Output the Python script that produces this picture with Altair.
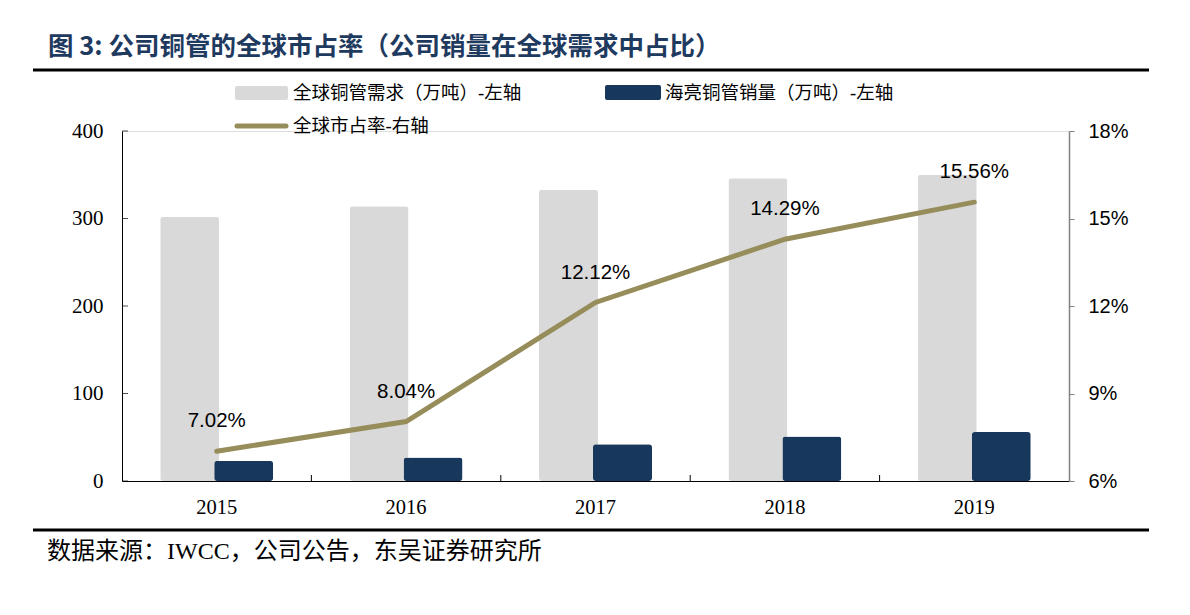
import altair as alt
import pandas as pd

years = ["2015", "2016", "2017", "2018", "2019"]
demand = [302, 314, 333, 346, 350]          # 全球铜管需求（万吨）
sales = [23, 27, 42, 51, 56]                 # 海亮铜管销量（万吨）
share = [7.02, 8.04, 12.12, 14.29, 15.56]    # 全球市占率 %
left_ticks = [0, 100, 200, 300, 400]
right_ticks = [6, 9, 12, 15, 18]

title_text = "图 3:  公司铜管的全球市占率（公司销量在全球需求中占比）"
source_text = "数据来源：IWCC，公司公告，东吴证券研究所"
leg1 = "全球铜管需求（万吨）-左轴"
leg2 = "海亮铜管销量（万吨）-左轴"
leg3 = "全球市占率-右轴"

df = pd.DataFrame({"year": years, "demand": demand, "sales": sales, "share": share})
df_ticks = pd.DataFrame({"v": left_ticks})
df_bounds = pd.DataFrame({"year": years[1:]})
one = pd.DataFrame({"a": [0]})

W, H = 947, 350
SERIF = "Liberation Serif, Times New Roman, Noto Sans CJK SC"
CJK = "Liberation Serif, Noto Sans CJK SC"
SANS = "Liberation Sans, Arial"
GRAY = "#D9D9D9"
NAVY = "#18375C"
OLIVE = "#978D5B"

xscale = alt.Scale(domain=years, paddingInner=0, paddingOuter=0)
xenc = alt.X("year:N", scale=xscale, sort=years,
             axis=alt.Axis(title=None, labelAngle=0, ticks=False, domainColor="black",
                           domainWidth=1, labelFont=SERIF, labelFontSize=20.5,
                           labelColor="black", labelPadding=16))
yleft = alt.Scale(domain=[0, 400], nice=False)

base = alt.Chart(df)

gray_bars = base.mark_bar(width=59, xOffset=-27, color=GRAY, cornerRadius=3).encode(
    x=xenc,
    y=alt.Y("demand:Q", scale=yleft,
            axis=alt.Axis(title=None, values=left_ticks, ticks=False, grid=False,
                          domainColor="black", domainWidth=1, labelFont=SERIF,
                          labelFontSize=21, labelColor="black", labelPadding=19)),
)
dark_bars = base.mark_bar(width=59, xOffset=27, color=NAVY, cornerRadius=3).encode(
    x=alt.X("year:N", scale=xscale, sort=years),
    y=alt.Y("sales:Q", scale=yleft),
)
left_tick_marks = alt.Chart(df_ticks).mark_tick(orient="horizontal", size=6, thickness=1,
                                                color="black").encode(
    x=alt.value(3), y=alt.Y("v:Q", scale=yleft))
x_bounds = alt.Chart(df_bounds).mark_rule(color="black", strokeWidth=1).encode(
    x=alt.X("year:N", scale=xscale, sort=years, bandPosition=0),
    y=alt.value(H - 6), y2=alt.value(H))

# decorations (title, rules, source, legend)
def txt(t, x, y, size, font=CJK, weight="normal", color="black"):
    return alt.Chart(one).mark_text(text=t, align="left", baseline="middle", fontSize=size,
                                    font=font, fontWeight=weight, color=color).encode(
        x=alt.value(x), y=alt.value(y))

title = txt(title_text, -74, -84, 25.5, font="Noto Sans CJK SC", weight="bold", color="#1F3A5F")
top_rule = alt.Chart(one).mark_rule(color="black", strokeWidth=3).encode(
    x=alt.value(-89), x2=alt.value(1027), y=alt.value(-61))
bot_rule = alt.Chart(one).mark_rule(color="black", strokeWidth=3).encode(
    x=alt.value(-89), x2=alt.value(1027), y=alt.value(399))
source = txt(source_text, -75, 421, 24)

sw1 = alt.Chart(one).mark_rect(color=GRAY, cornerRadius=2).encode(
    x=alt.value(113), x2=alt.value(166), y=alt.value(-45), y2=alt.value(-31))
sw2 = alt.Chart(one).mark_rect(color=NAVY, cornerRadius=2).encode(
    x=alt.value(483), x2=alt.value(539), y=alt.value(-46), y2=alt.value(-31))
sw3 = alt.Chart(one).mark_rule(color=OLIVE, strokeWidth=5, strokeCap="round").encode(
    x=alt.value(115), x2=alt.value(164), y=alt.value(-5))
t1 = txt(leg1, 171, -38, 18.5)
t2 = txt(leg2, 543, -38, 18.5)
t3 = txt(leg3, 171, -5, 18.5)

left = alt.layer(gray_bars, dark_bars, left_tick_marks, x_bounds,
                 title, top_rule, bot_rule, source, sw1, sw2, sw3, t1, t2, t3)

yright = alt.Scale(domain=[6, 18], nice=False)
line = base.mark_line(color=OLIVE, strokeWidth=5, strokeCap="round").encode(
    x=alt.X("year:N", scale=xscale, sort=years),
    y=alt.Y("share:Q", scale=yright,
            axis=alt.Axis(title=None, orient="right", values=right_ticks, grid=False,
                          labelExpr="datum.value + '%'", domainColor="#808080",
                          domainWidth=1.5, tickColor="#808080", tickSize=5,
                          labelFont=SANS, labelFontSize=20, labelColor="black",
                          labelPadding=14)),
)
labels = base.transform_calculate(lab="format(datum.share, '.2f') + '%'").mark_text(
    dy=-30, fontSize=20.5, font=SANS, color="black", align="center", baseline="middle").encode(
    x=alt.X("year:N", scale=xscale, sort=years),
    y=alt.Y("share:Q", scale=yright),
    text="lab:N",
)
right = alt.layer(line, labels)

chart = alt.layer(left, right).resolve_scale(y="independent").properties(
    width=W, height=H,
    autosize=alt.AutoSizeParams(type="none"),
    padding={"left": 114, "top": 123, "right": 110, "bottom": 105},
).configure_view(stroke=None).configure(background="white")

chart.save("out.html", embed_options={"renderer": "svg", "actions": False})
